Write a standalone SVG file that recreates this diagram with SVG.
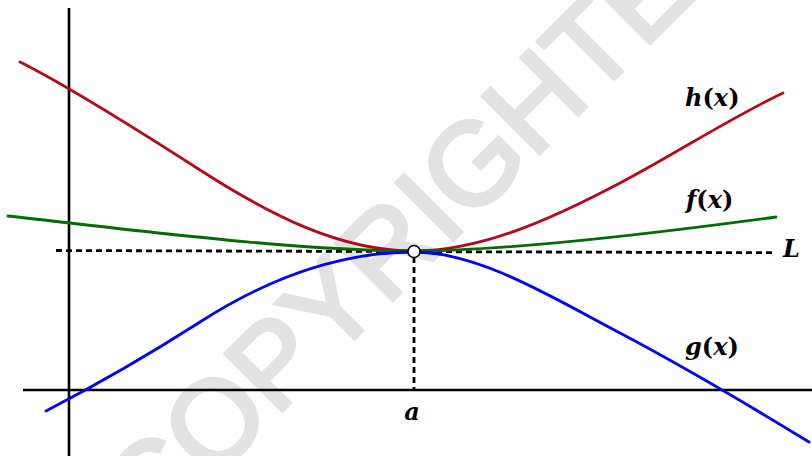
<svg xmlns="http://www.w3.org/2000/svg" width="812" height="456" viewBox="0 0 812 456">
<style>
.wm{font-family:"Liberation Sans",Arial,sans-serif;font-size:117px;fill:#e2e2e2;stroke:#e2e2e2;stroke-width:4}
.axis{stroke:#000;stroke-width:2.6;fill:none}
.dash{stroke:#000;stroke-width:2.8;stroke-dasharray:6 4;fill:none}
.curve{fill:none;stroke-width:2.8;stroke-linecap:round}
.lbl{font-family:"DejaVu Serif","Liberation Serif",serif;font-size:24px;font-weight:bold;font-style:italic;fill:#000}
.up{font-style:normal}
</style>
<rect width="812" height="456" fill="#fff"/>
<text class="wm" transform="translate(151.5,541.5) rotate(-45)">COPYRIGHTED</text>
<g id="axes">
<line class="axis" x1="69" y1="8" x2="69" y2="456"/>
<line class="axis" x1="23" y1="390" x2="812" y2="390"/>
</g>
<g id="connectors">
<line class="dash" x1="56" y1="250.5" x2="773" y2="252.7"/>
<line class="dash" x1="414" y1="257" x2="414" y2="390"/>
</g>
<g id="h">
<path class="curve" stroke="#b3081c" d="M20,62 C60,82 130,125 200,170 C270,215 340,251 414,251 C480,251 550,220 620,183 C675,154 730,118 783,93"/>
</g>
<g id="f">
<path class="curve" stroke="#006b00" d="M8,216 C150,232 300,251 414,251 C500,251 650,234 776,217"/>
</g>
<g id="g">
<path class="curve" stroke="#0000f5" d="M46,411 C100,383 150,354 200,322 C270,277 340,252 414,252 C480,252 555,299 620,333 C690,370 760,412 809,442"/>
</g>
<g id="point">
<circle cx="414" cy="251.5" r="6" fill="#fff" stroke="#000" stroke-width="1.6"/>
</g>
<g id="labels">
<text class="lbl" x="685" y="106">h<tspan class="up">(</tspan>x<tspan class="up">)</tspan></text>
<text class="lbl" x="686" y="208">f<tspan class="up">(</tspan>x<tspan class="up">)</tspan></text>
<text class="lbl" x="685" y="355">g<tspan class="up">(</tspan>x<tspan class="up">)</tspan></text>
<text class="lbl" x="783" y="257">L</text>
<text class="lbl" x="412" y="420" text-anchor="middle">a</text>
</g>
</svg>
